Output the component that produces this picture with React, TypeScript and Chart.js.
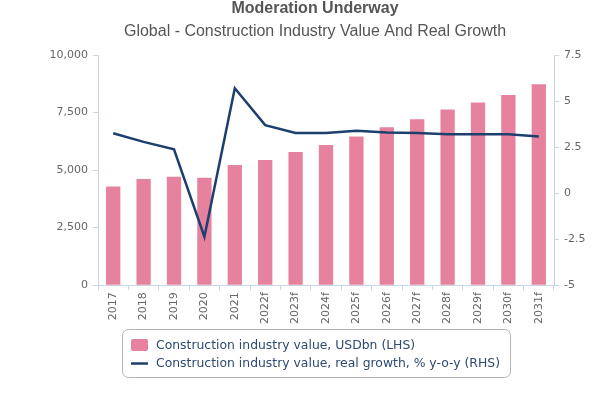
import React, { useEffect, useRef } from "react";
import { Chart, registerables } from "chart.js";

Chart.register(...registerables);

const categories = ["2017", "2018", "2019", "2020", "2021", "2022f", "2023f", "2024f", "2025f", "2026f", "2027f", "2028f", "2029f", "2030f", "2031f"];
const industryValue = [4290, 4610, 4710, 4670, 5220, 5440, 5790, 6090, 6460, 6860, 7210, 7630, 7940, 8260, 8730];
const realGrowth = [3.25, 2.78, 2.38, -2.37, 5.69, 3.69, 3.27, 3.27, 3.38, 3.29, 3.27, 3.2, 3.2, 3.2, 3.07];
const barLabel = "Construction industry value, USDbn (LHS)";
const lineLabel = "Construction industry value, real growth, % y-o-y (RHS)";
const titleText = "Moderation Underway";
const subtitleText = "Global - Construction Industry Value And Real Growth";

const PINK = "#e6829d";
const NAVY = "#1d3f6e";
const AXIS = "#c9d5e3";
const TICK = "#666666";
const LEGEND_TEXT = "#2e4a70";
const TICK_FONT = { family: "DejaVu Sans", size: 11 };

const titles = {
  id: "customTitles",
  afterDraw(chart: any) {
    const ctx = chart.ctx as CanvasRenderingContext2D;
    ctx.save();
    ctx.textAlign = "center";
    ctx.textBaseline = "alphabetic";
    ctx.fillStyle = "#555555";
    ctx.font = "bold 16px 'Liberation Sans'";
    ctx.fillText(titleText, 315, 13);
    ctx.font = "16px 'Liberation Sans'";
    ctx.fillText(subtitleText, 315, 36);
    ctx.restore();
  },
};

const boxLegend = {
  id: "boxLegend",
  afterDraw(chart: any) {
    const ctx = chart.ctx as CanvasRenderingContext2D;
    const x0 = 122, y0 = 329, w = 388, h = 48;
    ctx.save();
    ctx.strokeStyle = "#b5b5b5";
    ctx.lineWidth = 1;
    ctx.beginPath();
    (ctx as any).roundRect(x0 + 0.5, y0 + 0.5, w, h, 6);
    ctx.stroke();
    ctx.font = "12.4px 'DejaVu Sans'";
    ctx.textBaseline = "middle";
    const ds = chart.data.datasets;
    ctx.fillStyle = ds[0].backgroundColor;
    ctx.beginPath();
    (ctx as any).roundRect(131, 339, 17, 12, 2);
    ctx.fill();
    ctx.fillStyle = LEGEND_TEXT;
    ctx.fillText(ds[0].label, 156, 345.5);
    ctx.strokeStyle = ds[1].borderColor;
    ctx.lineWidth = 2.5;
    ctx.beginPath();
    ctx.moveTo(131, 363.5);
    ctx.lineTo(148, 363.5);
    ctx.stroke();
    ctx.fillText(ds[1].label, 156, 363.5);
    ctx.restore();
  },
};

export default function App() {
  const ref = useRef<HTMLCanvasElement | null>(null);
  useEffect(() => {
    document.body.style.margin = "0";
    const chart = new Chart(ref.current as HTMLCanvasElement, {
      type: "bar",
      data: {
        labels: categories,
        datasets: [
          {
            type: "bar",
            label: barLabel,
            data: industryValue,
            backgroundColor: PINK,
            yAxisID: "y",
            barPercentage: 0.47,
            categoryPercentage: 1,
            order: 2,
          },
          {
            type: "line",
            label: lineLabel,
            data: realGrowth,
            borderColor: NAVY,
            backgroundColor: NAVY,
            borderWidth: 2.5,
            pointRadius: 0,
            tension: 0,
            yAxisID: "y1",
            order: 1,
          } as any,
        ],
      },
      options: {
        responsive: false,
        animation: false,
        layout: { padding: { top: 55, left: 0, right: 0, bottom: 74 } },
        plugins: {
          legend: { display: false },
          tooltip: { enabled: false },
          title: { display: false },
        },
        scales: {
          x: {
            offset: true,
            grid: { display: true, drawOnChartArea: false, drawTicks: true, tickLength: 5, color: AXIS, offset: true },
            border: { display: true, color: AXIS, width: 1 },
            ticks: { color: TICK, font: TICK_FONT, minRotation: 90, maxRotation: 90, autoSkip: false, padding: 2 },
          },
          y: {
            position: "left",
            min: 0,
            max: 10000,
            afterFit: (s: any) => { s.width = 98; },
            grid: { display: true, drawOnChartArea: false, drawTicks: true, tickLength: 5, color: AXIS },
            border: { display: true, color: AXIS, width: 1 },
            ticks: {
              stepSize: 2500,
              color: TICK,
              font: TICK_FONT,
              padding: 5,
              callback: (v: any) => Number(v).toLocaleString("en-US"),
            },
          },
          y1: {
            position: "right",
            min: -5,
            max: 7.5,
            afterFit: (s: any) => { s.width = 46; },
            grid: { display: true, drawOnChartArea: false, drawTicks: true, tickLength: 5, color: AXIS },
            border: { display: true, color: AXIS, width: 1 },
            ticks: { stepSize: 2.5, color: TICK, font: TICK_FONT, padding: 5 },
          },
        },
      } as any,
      plugins: [titles, boxLegend],
    });
    return () => chart.destroy();
  }, []);
  return (
    <div style={{ width: 600, height: 400 }}>
      <canvas ref={ref} width={600} height={400} />
    </div>
  );
}
